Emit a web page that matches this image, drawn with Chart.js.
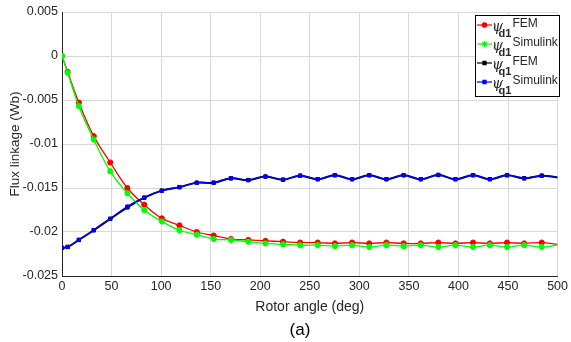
<!DOCTYPE html>
<html>
<head>
<meta charset="utf-8">
<script src="https://cdn.jsdelivr.net/npm/chart.js@4.4.1/dist/chart.umd.min.js"></script>
<style>
  html, body { margin: 0; padding: 0; background: #fff; }
</style>
</head>
<body>
<canvas id="fluxChart" width="571" height="342"></canvas>
<script>
// rotor angle (deg) of the samples
const angles = [0, 5.7, 17, 32, 48.7, 66, 83, 100.7, 118.5, 136, 153, 170.5, 188, 205.3, 223, 240.3,
  258, 275.3, 292.7, 310, 327.3, 344.7, 362, 379.7, 397, 414.7, 431.7, 449, 466.3, 484, 500];

const psiD1Fem = [0, -0.0018, -0.0053, -0.0091, -0.0121, -0.0150, -0.0169, -0.01845, -0.01925, -0.0200,
  -0.0204, -0.0208, -0.0209, -0.0210, -0.0211, -0.0212, -0.0212, -0.0213, -0.0212, -0.0213, -0.0212,
  -0.0213, -0.0213, -0.0212, -0.0213, -0.0212, -0.0213, -0.0212, -0.0213, -0.0212, -0.0214];

const psiD1Sim = [0, -0.0019, -0.0057, -0.0095, -0.0131, -0.0156, -0.0175, -0.0188, -0.0198, -0.0203,
  -0.0208, -0.0209, -0.0211, -0.0213, -0.0214, -0.0215, -0.0215, -0.0216, -0.0215, -0.0217, -0.0215,
  -0.0216, -0.0215, -0.0217, -0.0215, -0.0217, -0.0215, -0.0217, -0.0215, -0.0217, -0.0215];

const psiQ1Fem = [-0.0218, -0.0217, -0.0209, -0.0198, -0.0185, -0.0172, -0.0161, -0.0153, -0.0149, -0.0144,
  -0.0144, -0.0139, -0.0141, -0.0137, -0.01405, -0.0136, -0.0140, -0.01355, -0.0140, -0.01355, -0.0140,
  -0.01355, -0.0140, -0.01352, -0.0140, -0.01355, -0.0140, -0.01355, -0.0139, -0.0136, -0.0138];

const psiQ1Sim = [-0.0218, -0.0217, -0.0209, -0.0198, -0.0185, -0.0171, -0.0161, -0.0153, -0.0149, -0.0144,
  -0.0144, -0.0139, -0.0141, -0.0137, -0.01405, -0.0136, -0.0140, -0.01355, -0.0140, -0.01355, -0.0140,
  -0.01355, -0.0140, -0.01352, -0.0140, -0.01355, -0.0140, -0.01355, -0.0139, -0.0136, -0.0138];

const xTickValues = [0, 50, 100, 150, 200, 250, 300, 350, 400, 450, 500];
const xTickLabels = ['0', '50', '100', '150', '200', '250', '300', '350', '400', '450', '500'];
const yTickValues = [-0.025, -0.02, -0.015, -0.01, -0.005, 0, 0.005];
const yTickLabels = ['-0.025', '-0.02', '-0.015', '-0.01', '-0.005', '0', '0.005'];

const FONT = '"Liberation Sans", Arial, sans-serif';
const TEXT = '#262626';
const GRID = '#d8d8d8';

const toPoints = ys => ys.map((y, i) => ({ x: angles[i], y: y }));
// no marker on the last sample
const markerSize = r => ctx => ctx.dataIndex === angles.length - 1 ? 0 : r;

// legend drawn like the matlab box in the top right corner
const legendItems = [
  { color: '#ff0000', marker: 'circle', sub: 'd1', label: 'FEM' },
  { color: '#00ff00', marker: 'star', sub: 'd1', label: 'Simulink' },
  { color: '#000000', marker: 'rect', sub: 'q1', label: 'FEM' },
  { color: '#0000ff', marker: 'rect', sub: 'q1', label: 'Simulink' }
];

const boxLegend = {
  id: 'boxLegend',
  afterDraw(chart) {
    const c = chart.ctx;
    c.save();
    c.fillStyle = '#fff';
    c.fillRect(475, 15, 85, 82);
    c.strokeStyle = '#000';
    c.lineWidth = 1;
    c.strokeRect(475.5, 15.5, 84, 81);
    legendItems.forEach((item, i) => {
      const y = 25 + i * 19;
      c.strokeStyle = item.color;
      c.lineWidth = 1.2;
      c.beginPath();
      c.moveTo(477, y);
      c.lineTo(492, y);
      c.stroke();
      Chart.helpers.drawPoint(c, {
        pointStyle: item.marker, radius: item.marker === 'star' ? 3 : 2.2, borderWidth: item.marker === 'star' ? 2 : 1
      }, 484.5, y);
      c.fillStyle = item.color;
      c.fill();
      c.fillStyle = TEXT;
      c.textBaseline = 'middle';
      c.textAlign = 'left';
      c.font = 'italic 14px "DejaVu Serif", serif';
      c.fillText('\u03c8', 492, y + 2);
      c.font = 'bold 11px ' + FONT;
      c.fillText(item.sub, 498.5, y + 8.5);
      c.font = '12px ' + FONT;
      c.fillText(item.label, 512.5, y - 1);
    });
    c.restore();
  }
};

const figLabel = {
  id: 'figLabel',
  afterDraw(chart) {
    const c = chart.ctx;
    c.save();
    c.fillStyle = '#000';
    c.font = '17px ' + FONT;
    c.textAlign = 'center';
    c.textBaseline = 'middle';
    c.fillText('(a)', 300, 330);
    c.restore();
  }
};

new Chart(document.getElementById('fluxChart'), {
  type: 'line',
  data: {
    datasets: [
      {
        label: 'psi_q1 Simulink', data: toPoints(psiQ1Sim), order: 1,
        borderColor: '#0000ff', backgroundColor: '#0000ff', borderWidth: 1.4,
        pointStyle: 'rect', pointRadius: markerSize(2.2), pointBorderWidth: 1, tension: 0.4
      },
      {
        label: 'psi_d1 Simulink', data: toPoints(psiD1Sim), order: 2,
        borderColor: '#00ff00', backgroundColor: '#00ff00', borderWidth: 1.3,
        pointStyle: 'star', pointRadius: markerSize(3), pointBorderWidth: 2, tension: 0.4
      },
      {
        label: 'psi_q1 FEM', data: toPoints(psiQ1Fem), order: 3,
        borderColor: '#000000', backgroundColor: '#000000', borderWidth: 2,
        pointStyle: 'rect', pointRadius: markerSize(2.4), pointBorderWidth: 1, tension: 0.4
      },
      {
        label: 'psi_d1 FEM', data: toPoints(psiD1Fem), order: 4,
        borderColor: '#ff0000', backgroundColor: '#ff0000', borderWidth: 1.3,
        pointStyle: 'circle', pointRadius: markerSize(2.6), pointBorderWidth: 1, tension: 0.4
      }
    ]
  },
  options: {
    responsive: false,
    animation: false,
    layout: { padding: { left: 0, right: 9, top: 12, bottom: 26 } },
    plugins: {
      legend: { display: false },
      tooltip: { enabled: false }
    },
    scales: {
      x: {
        type: 'linear',
        min: 0,
        max: 500,
        afterBuildTicks: scale => { scale.ticks = xTickValues.map(v => ({ value: v })); },
        afterFit: scale => { scale.height = 40; },
        ticks: {
          color: TEXT, font: { family: FONT, size: 12.5 }, padding: 3, maxRotation: 0, autoSkip: false,
          callback: (v, i) => xTickLabels[i]
        },
        grid: { color: GRID, drawTicks: false },
        border: { color: TEXT, width: 1 },
        title: {
          display: true, text: 'Rotor angle (deg)', color: TEXT,
          font: { family: FONT, size: 14 }, padding: { top: 5, bottom: 0 }
        }
      },
      y: {
        min: -0.025,
        max: 0.005,
        afterBuildTicks: scale => { scale.ticks = yTickValues.map(v => ({ value: v })); },
        afterFit: scale => { scale.width = 62; },
        ticks: {
          color: TEXT, font: { family: FONT, size: 12.5 }, padding: 4, autoSkip: false,
          callback: (v, i) => yTickLabels[i]
        },
        grid: { color: GRID, drawTicks: false },
        border: { color: TEXT, width: 1 },
        title: {
          display: true, text: 'Flux linkage (Wb)', color: TEXT,
          font: { family: FONT, size: 13.5 }, padding: { top: 7, bottom: 0 }
        }
      }
    }
  },
  plugins: [boxLegend, figLabel]
});
</script>
</body>
</html>
